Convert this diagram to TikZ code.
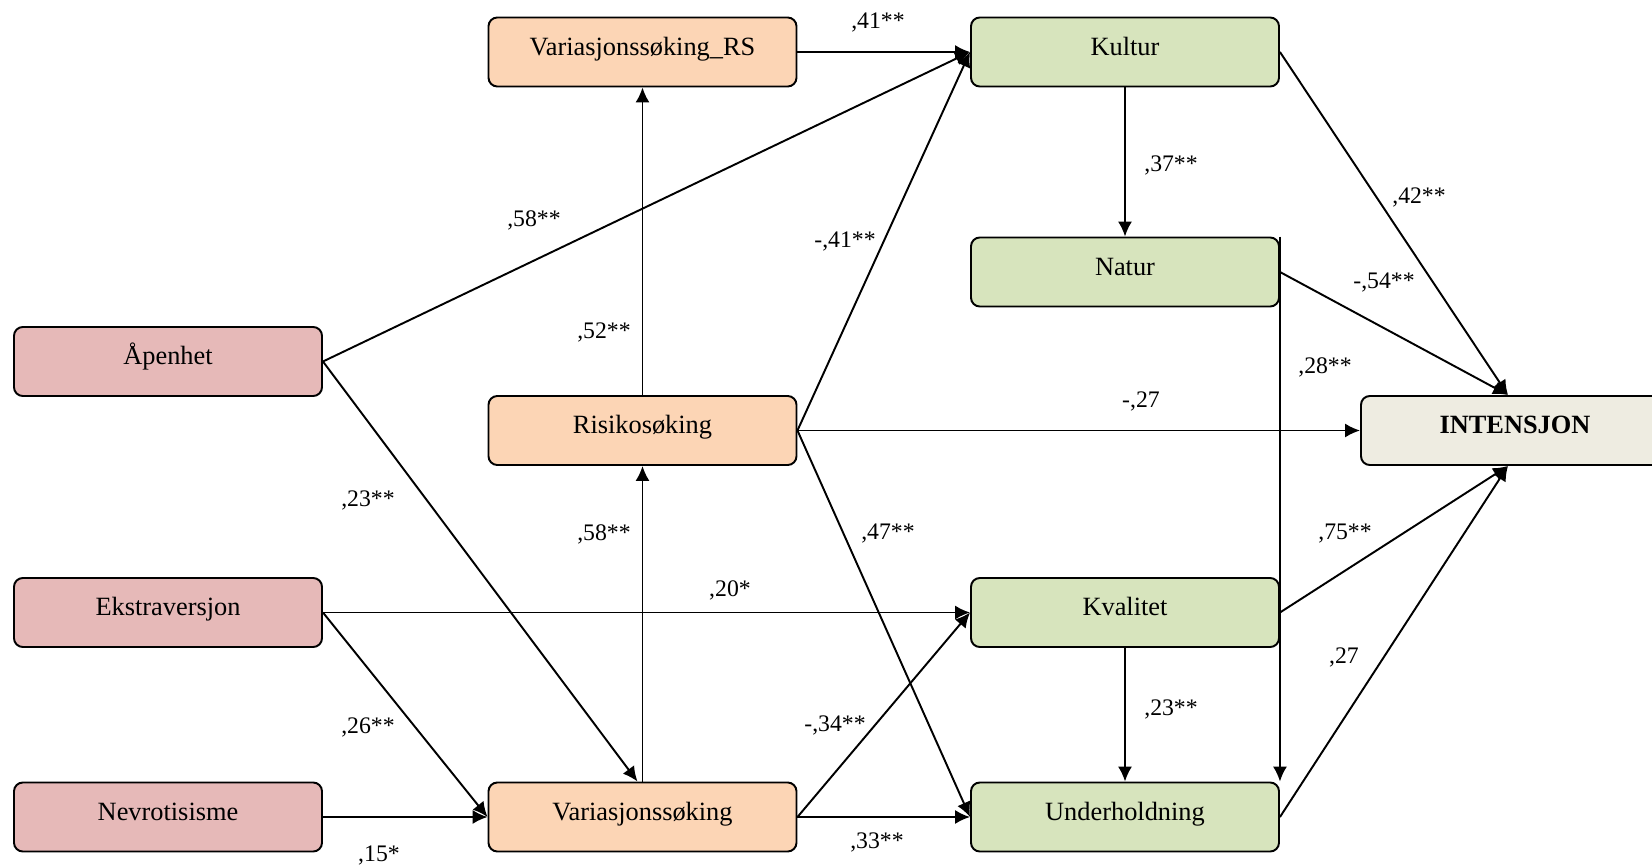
\documentclass[tikz,border=0pt]{standalone}
\usepackage{fontspec}
\setmainfont{Liberation Serif}
\usetikzlibrary{arrows.meta}

\definecolor{rosa}{HTML}{E6B9B8}
\definecolor{oransje}{HTML}{FCD5B5}
\definecolor{groenn}{HTML}{D7E4BD}
\definecolor{beige}{HTML}{EEECE1}

\begin{document}
\begin{tikzpicture}[>={Latex[length=8.5pt,width=8pt]}, line width=1.1pt,
  boks/.style={draw,rectangle,rounded corners=5pt,minimum width=6.16cm,
    minimum height=1.38cm,text height=0.7em,text depth=0.34em,
    font=\fontsize{15}{18}\selectfont},
  pers/.style={boks,fill=rosa},
  mot/.style={boks,fill=oransje},
  reise/.style={boks,fill=groenn},
  vekt/.style={inner sep=1pt,font=\fontsize{13.5}{16}\selectfont}]
  \useasboundingbox (0,0) rectangle (33.04,-17.32);

  %% personlighet
  \node (apen)  at (3.36,-7.23)  [pers] {Åpenhet};
  \node (ekstr) at (3.36,-12.25) [pers] {Ekstraversjon};
  \node (nevro) at (3.36,-16.34) [pers] {Nevrotisisme};

  %% motiver
  \node (vrs)   at (12.85,-1.04)  [mot] {Variasjonssøking\_RS};
  \node (risk)  at (12.85,-8.61)  [mot] {Risikosøking};
  \node (vars)  at (12.85,-16.34) [mot] {Variasjonssøking};

  %% reisetyper
  \node (kult)  at (22.5,-1.04)  [reise] {Kultur};
  \node (nat)   at (22.5,-5.44)  [reise] {Natur};
  \node (kval)  at (22.5,-12.25) [reise] {Kvalitet};
  \node (und)   at (22.5,-16.34) [reise] {Underholdning};

  \node (int)   at (30.3,-8.61) [boks,fill=beige] {\textbf{INTENSJON}};

  %% stier
  \draw[->] (vrs) to (kult);
  \draw[->] (apen.east) to (kult.west);
  \draw[->] (apen.east) to ([xshift=-0.1cm]vars.north);
  \draw[->] (risk) to (vrs);
  \draw[->] (vars) to (risk);
  \draw[->] (risk.east) to (kult.west);
  \draw[->] (risk.east) to (int.west);
  \draw[->] (risk.east) to (und.west);
  \draw[->] (ekstr.east) to (kval.west);
  \draw[->] (ekstr.east) to (vars.west);
  \draw[->] (nevro) to (vars);
  \draw[->] (vars.east) to (kval.west);
  \draw[->] (vars) to (und);
  \draw[->] (kult) to (nat);
  \draw[->] (kval) to (und);
  \draw[->] (nat.north east) to (und.north east);
  \draw[->] (kult.east) to ([xshift=-0.14cm]int.north);
  \draw[->] (nat.east) to ([xshift=-0.14cm]int.north);
  \draw[->] (kval.east) to ([xshift=-0.14cm]int.south);
  \draw[->] (und.east) to ([xshift=-0.14cm]int.south);

  %% koeffisienter
  \node (k1)  at (17.56,-0.44)  [vekt] {,41**};
  \node (k2)  at (10.68,-4.4)   [vekt] {,58**};
  \node (k3)  at (12.08,-6.64)  [vekt] {,52**};
  \node (k4)  at (16.9,-4.82)   [vekt] {-,41**};
  \node (k5)  at (23.42,-3.3)   [vekt] {,37**};
  \node (k6)  at (28.38,-3.94)  [vekt] {,42**};
  \node (k7)  at (27.68,-5.66)  [vekt] {-,54**};
  \node (k8)  at (26.5,-7.34)   [vekt] {,28**};
  \node (k9)  at (22.82,-8.02)  [vekt] {-,27};
  \node (k10) at (7.36,-10.0)   [vekt] {,23**};
  \node (k11) at (12.08,-10.68) [vekt] {,58**};
  \node (k12) at (17.76,-10.68) [vekt] {,47**};
  \node (k13) at (26.9,-10.68)  [vekt] {,75**};
  \node (k14) at (14.6,-11.8)   [vekt] {,20*};
  \node (k15) at (26.88,-13.14) [vekt] {,27};
  \node (k16) at (7.36,-14.54)  [vekt] {,26**};
  \node (k17) at (16.7,-14.5)   [vekt] {-,34**};
  \node (k18) at (23.42,-14.18) [vekt] {,23**};
  \node (k19) at (7.58,-17.1)   [vekt] {,15*};
  \node (k20) at (17.54,-16.84) [vekt] {,33**};
\end{tikzpicture}
\end{document}
